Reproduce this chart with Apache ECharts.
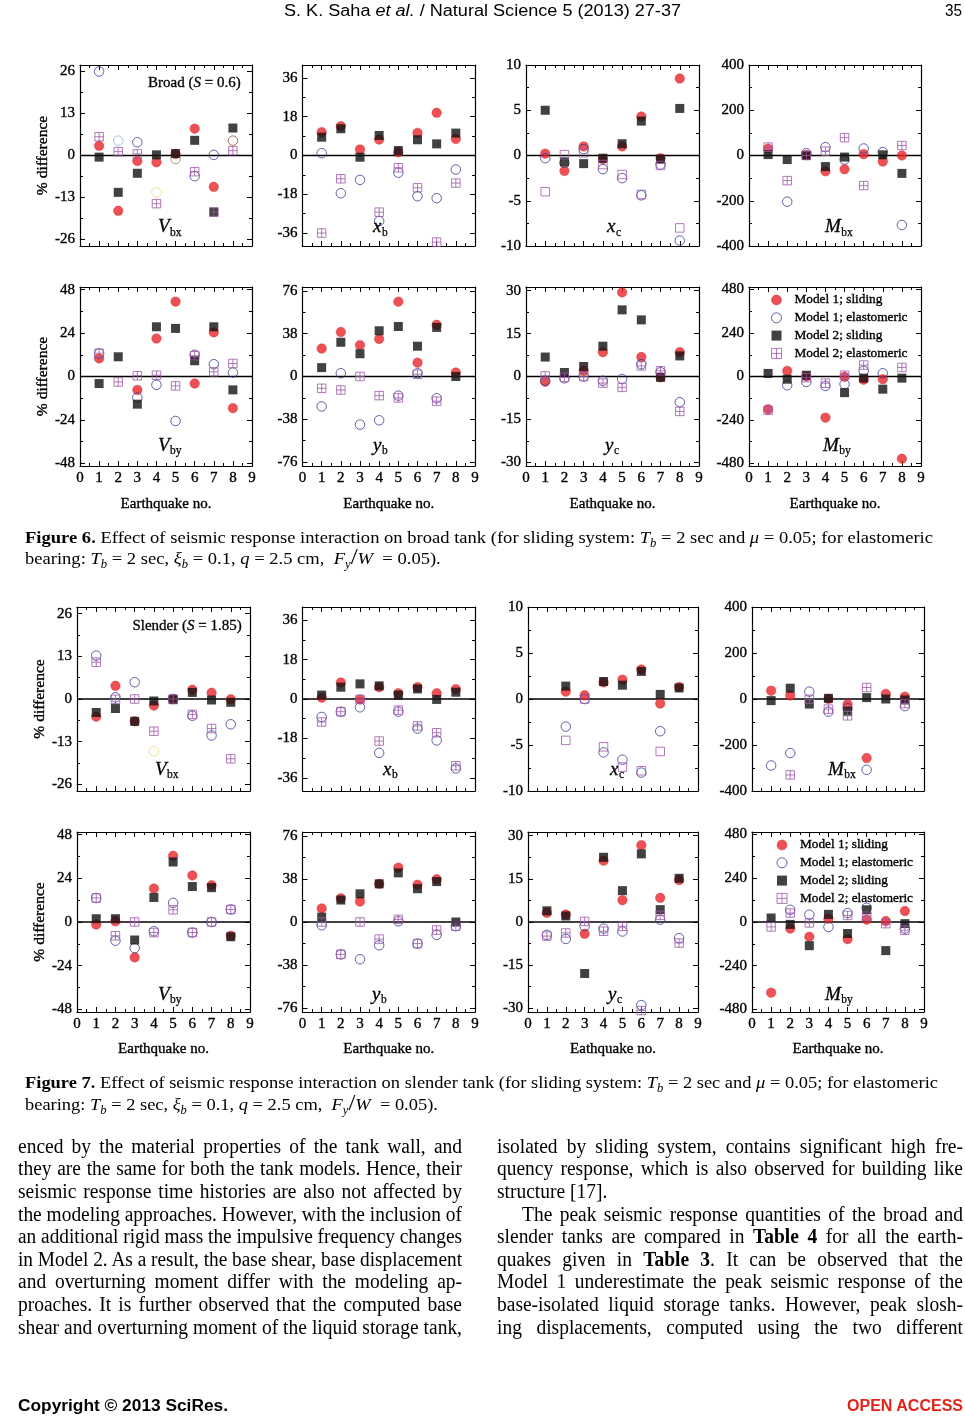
<!DOCTYPE html>
<html><head><meta charset="utf-8">
<script src="https://cdn.jsdelivr.net/npm/echarts@6.0.0/dist/echarts.min.js"></script>
<style>
html,body{margin:0;padding:0;background:#fff;}
#page{position:relative;width:965px;height:1417px;overflow:hidden;background:#fff;}
#chart{position:absolute;left:0;top:0;width:965px;height:1417px;}
.tx{position:absolute;white-space:nowrap;transform-origin:0 50%;color:#000;font-family:'Liberation Serif','Times New Roman',serif;z-index:2;}
.sans{font-family:'Liberation Sans',Arial,sans-serif;}
.tx sub{font-size:0.68em;vertical-align:-0.3em;line-height:0;}
.sl{font-size:1.35em;line-height:0;font-style:normal;}
</style>
</head><body>
<div id="page">
<div id="chart"></div>

<div class="tx sans" data-w="397" style="left:284px;top:0px;font-size:16px;line-height:21px">S. K. Saha <i>et al.</i> / Natural Science 5 (2013) 27-37</div>
<div class="tx sans" data-w="17" style="left:945px;top:0px;font-size:16px;line-height:21px">35</div>

<div class="tx" id="c6" data-w="908" style="left:25px;top:526px;font-size:17.5px;line-height:22px"><b>Figure 6.</b> Effect of seismic response interaction on broad tank (for sliding system: <i>T<sub>b</sub></i> = 2 sec and <i>μ</i> = 0.05; for elastomeric</div>
<div class="tx" data-same="c6" style="left:25px;top:547px;font-size:17.5px;line-height:22px">bearing: <i>T<sub>b</sub></i> = 2 sec, <i>ξ<sub>b</sub></i> = 0.1, <i>q</i> = 2.5 cm, &nbsp;<i>F<sub>y</sub></i><span class="sl">/</span><i>W</i> &nbsp;= 0.05).</div>

<div class="tx" id="c7" data-w="913" style="left:25px;top:1071px;font-size:17.5px;line-height:22px"><b>Figure 7.</b> Effect of seismic response interaction on slender tank (for sliding system: <i>T<sub>b</sub></i> = 2 sec and <i>μ</i> = 0.05; for elastomeric</div>
<div class="tx" data-same="c7" style="left:25px;top:1093px;font-size:17.5px;line-height:22px">bearing: <i>T<sub>b</sub></i> = 2 sec, <i>ξ<sub>b</sub></i> = 0.1, <i>q</i> = 2.5 cm, &nbsp;<i>F<sub>y</sub></i><span class="sl">/</span><i>W</i> &nbsp;= 0.05).</div>

<div class="tx" data-w="444" data-j="1" style="left:18px;top:1134.7px;font-size:20.5px;line-height:22.6px">enced by the material properties of the tank wall, and</div>
<div class="tx" data-w="444" data-j="1" style="left:18px;top:1157.3px;font-size:20.5px;line-height:22.6px">they are the same for both the tank models. Hence, their</div>
<div class="tx" data-w="444" data-j="1" style="left:18px;top:1179.9px;font-size:20.5px;line-height:22.6px">seismic response time histories are also not affected by</div>
<div class="tx" data-w="444" data-j="1" style="left:18px;top:1202.5px;font-size:20.5px;line-height:22.6px">the modeling approaches. However, with the inclusion of</div>
<div class="tx" data-w="444" data-j="1" style="left:18px;top:1225.1px;font-size:20.5px;line-height:22.6px">an additional rigid mass the impulsive frequency changes</div>
<div class="tx" data-w="444" data-j="1" style="left:18px;top:1247.7px;font-size:20.5px;line-height:22.6px">in Model 2. As a result, the base shear, base displacement</div>
<div class="tx" data-w="444" data-j="1" style="left:18px;top:1270.3px;font-size:20.5px;line-height:22.6px">and overturning moment differ with the modeling ap-</div>
<div class="tx" data-w="444" data-j="1" style="left:18px;top:1292.9px;font-size:20.5px;line-height:22.6px">proaches. It is further observed that the computed base</div>
<div class="tx" data-w="444" data-j="1" style="left:18px;top:1315.5px;font-size:20.5px;line-height:22.6px">shear and overturning moment of the liquid storage tank,</div>

<div class="tx" data-w="466" data-j="1" style="left:497px;top:1134.7px;font-size:20.5px;line-height:22.6px">isolated by sliding system, contains significant high fre-</div>
<div class="tx" data-w="466" data-j="1" style="left:497px;top:1157.3px;font-size:20.5px;line-height:22.6px">quency response, which is also observed for building like</div>
<div class="tx" data-k="0.95" style="left:497px;top:1179.9px;font-size:20.5px;line-height:22.6px">structure [17].</div>
<div class="tx" data-w="441" data-j="1" style="left:522px;top:1202.5px;font-size:20.5px;line-height:22.6px">The peak seismic response quantities of the broad and</div>
<div class="tx" data-w="466" data-j="1" style="left:497px;top:1225.1px;font-size:20.5px;line-height:22.6px">slender tanks are compared in <b>Table 4</b> for all the earth-</div>
<div class="tx" data-w="466" data-j="1" style="left:497px;top:1247.7px;font-size:20.5px;line-height:22.6px">quakes given in <b>Table 3</b>. It can be observed that the</div>
<div class="tx" data-w="466" data-j="1" style="left:497px;top:1270.3px;font-size:20.5px;line-height:22.6px">Model 1 underestimate the peak seismic response of the</div>
<div class="tx" data-w="466" data-j="1" style="left:497px;top:1292.9px;font-size:20.5px;line-height:22.6px">base-isolated liquid storage tanks. However, peak slosh-</div>
<div class="tx" data-w="466" data-j="1" style="left:497px;top:1315.5px;font-size:20.5px;line-height:22.6px">ing displacements, computed using the two different</div>

<div class="tx sans" data-w="210" style="left:18px;top:1395px;font-size:16px;line-height:22px;font-weight:bold">Copyright © 2013 SciRes.</div>
<div class="tx sans" data-w="116" style="left:847px;top:1395px;font-size:16px;line-height:22px;font-weight:bold;color:#e2231a">OPEN ACCESS</div>
</div>

<script>
// ---------------- DATA ----------------
const earthquakes = [1, 2, 3, 4, 5, 6, 7, 8];
const panelKeys = ['Vbx', 'xb', 'xc', 'Mbx', 'Vby', 'yb', 'yc', 'Mby'];
const panelMain = ['V', 'x', 'x', 'M', 'V', 'y', 'y', 'M'];
const panelSub = ['bx', 'b', 'c', 'bx', 'by', 'b', 'c', 'by'];
const yMajorTicks = [
  [-26, -13, 0, 13, 26], [-36, -18, 0, 18, 36], [-10, -5, 0, 5, 10], [-400, -200, 0, 200, 400],
  [-48, -24, 0, 24, 48], [-76, -38, 0, 38, 76], [-30, -15, 0, 15, 30], [-480, -240, 0, 240, 480]
];
const yExtent = [28, 42, 10, 400, 49.5, 79.5, 31.3, 494];
const xTitles = ['Earthquake no.', 'Earthquake no.', 'Eathquake no.', 'Earthquake no.'];
const seriesNames = ['Model 1; sliding', 'Model 1; elastomeric', 'Model 2; sliding', 'Model 2; elastomeric'];

// Figure 6 (broad tank) — rows: Vbx, xb, xc, Mbx, Vby, yb, yc, Mby ; columns: earthquakes 1..8
const fig6_M1S = [
  [3.0, -17.1, -1.7, -2.1, 0.5, 8.3, -9.7, null],
  [10.8, 13.6, 2.8, 7.4, 1.5, 10.5, 19.8, 7.7],
  [0.2, -1.7, 1.0, -0.4, 1.0, 4.3, -0.3, 8.5],
  [30, null, 2, -70, -61, 6, -27, 0],
  [10.0, null, -7.4, 21.0, 41.4, -3.9, 24.4, -17.5],
  [24.8, 39.5, 27.8, 33.3, 66.4, 12.3, 45.9, 3.5],
  [-1.8, null, 2.0, 8.5, 29.4, 6.8, -0.3, 8.5],
  [-181, 31, 0, -227, -2, -18, -15, -454]
];
const fig6_M1E = [
  [26.0, 4.6, 4.1, -11.4, -1.1, -6.4, 0.2, 4.6],
  [1.1, -17.5, -11.3, -30.4, -8.0, -18.9, -19.8, -6.5],
  [-0.3, -0.8, 0.7, -1.5, -2.5, -4.4, -1.0, -9.4],
  [null, -204, 10, 37, -18, 31, 15, -307],
  [12.7, null, -11.6, -4.6, -24.6, 12.0, 6.8, 2.2],
  [-26.6, 2.9, -42.7, -38.9, -17.0, 2.9, -19.3, null],
  [-1.5, -0.6, 0, -1.5, -0.9, 4.3, 1.5, -9.0],
  [null, -48, -30, -52, -42, 31, 18, null]
];
const fig6_M2S = [
  [-0.5, -11.4, -5.5, 0.2, 0.6, 4.7, -17.5, 8.5],
  [8.5, 12.4, -0.8, 9.3, 2.3, 7.3, 5.4, 10.4],
  [5.0, -0.7, -0.9, -0.3, 1.3, 3.8, -0.4, 5.2],
  [4, -18, 0, -49, -7, null, 3, -79],
  [-3.9, 10.9, -15.3, 27.5, 26.6, 8.7, 27.5, -7.4],
  [7.9, 30.4, 20.2, 40.6, 44.4, 26.9, 43.6, 0],
  [6.8, 1.4, 3.5, 10.6, 23.3, 19.8, -0.3, 7.2],
  [17, -15, 7, null, -89, -9, -70, -9]
];
const fig6_M2E = [
  [5.8, 1.2, 0.5, -14.9, null, -5.0, -17.5, 1.5],
  [-36, -10.8, null, -26.3, -5.7, -15.0, -40.2, -12.8],
  [-4.0, 0.1, 0.3, -1.0, -2.1, -4.3, -1.1, -8.0],
  [37, -111, 0, 19, 79, -133, null, 44],
  [12.9, -3.0, 0.4, 0.7, -5.2, 11.5, 2.6, 7.2],
  [-10.5, -12.0, 0, -17.0, -19.0, 2.0, -21.9, null],
  [0.2, -0.3, 0, -2.3, -3.8, 3.7, 2.0, -12.2],
  [-186, null, -6, -37, 7, 63, null, 50]
];

// Figure 7 (slender tank)
const fig7_M1S = [
  [-5.4, 4.0, -6.8, -2.0, 0, 2.8, 1.9, -0.1],
  [0.6, 7.5, -0.2, 5.4, 2.6, 5.4, 2.6, 4.5],
  [null, 0.8, 0.4, 1.8, 2.1, 3.2, -0.5, 1.3],
  [36, 15, null, 0, -23, -257, 22, 10],
  [-1.4, 0.4, -19.5, 18.4, 36.4, 25.6, 20.2, -7.6],
  [12.0, 20.9, 18.0, 33.7, 48.0, 32.9, 37.7, null],
  [3.2, 2.6, -4.1, 21.3, 7.6, 26.7, 8.4, 14.6],
  [-388, -36, -81, 18, -94, 13, 5, 60]
];
const fig7_M1E = [
  [13.2, 0.5, 5.1, -15.9, 0, -5.1, -11.1, -7.7],
  [-8.2, -5.8, -3.8, -24.6, -5.8, -13.5, -18.9, -31.7],
  [null, -3.0, 0, -5.8, -6.6, -8.0, -3.5, null],
  [-289, -235, 32, -55, -40, -308, null, -31],
  [13.2, -10.3, -14.4, -5.1, 10.5, -5.8, 0, 6.9],
  [-2.9, -28.6, -32.9, -20.6, 0.6, -19.1, -11.4, -3.7],
  [-4.5, -5.9, -1.5, -2.3, -3.3, -28.9, 0.8, -5.6],
  [null, 67, 40, -27, 49, 78, null, -36]
];
const fig7_M2S = [
  [-4.1, -2.9, -6.8, -0.6, -0.2, 2.0, -0.3, -1.0],
  [1.8, 5.4, 6.9, 6.0, 1.8, 4.6, -0.2, 3.1],
  [null, 1.4, null, 1.9, 1.5, 3.0, 0.5, 1.2],
  [-7, 47, -22, 3, -53, 6, 0, -4],
  [1.8, 1.8, -9.9, 13.5, 33.0, 19.5, 18.9, -8.1],
  [4.3, 19.4, 24.9, 33.7, 43.4, 29.4, 35.7, 0],
  [3.9, 2.1, -17.9, 22.5, 10.9, 23.7, 4.3, 15.2],
  [22, -13, -130, 42, -63, 67, -157, -9]
];
const fig7_M2E = [
  [11.2, -0.1, 0, -9.8, 0, -4.7, -9.0, -18.2],
  [-10.5, -5.8, -0.2, -19.2, -5.1, -12.3, -15.4, -30.5],
  [null, -4.5, 0, -5.2, -7.4, -7.8, -5.7, null],
  [null, -330, -1, -44, -73, 50, null, -20],
  [13.2, -7.6, 0, -5.8, 6.7, -5.8, 0, 6.9],
  [0, -28.6, 0, -15.1, 2.3, -19.1, -7.1, -3.7],
  [-4.9, -3.8, 0.2, -3.2, -1.5, -30.8, 2.3, -7.3],
  [-27, 49, -5, null, 36, 32, -9, -45]
];

// ---------------- LAYOUT / STYLE ----------------
const F = "'Liberation Serif','Times New Roman',serif";
const figures = [
  { M: [fig6_M1S, fig6_M1E, fig6_M2S, fig6_M2E],
    rows: [[65, 246], [287, 466]], cols: [[80, 252], [302.5, 475], [526, 699], [749, 921]],
    tag: ['Broad (', 'S', ' = 0.6)'], tagPos: [240.7, 82.7], legendPos: [771, 292.5],
    labelDx: [[78, 70.5, 81, 76], [78, 70.5, 79, 74]], baseDy: [-12.5, -14], nameGap: 31,
    // odd outline colours of a few open circles in the V_bx panel (style only: [panel, earthquake index, colour])
    oddCircles: [[0, 1, '#8db5dc'], [0, 3, '#e6dc78'], [0, 4, '#8f8a55'], [0, 7, '#9c4a2e']] },
  { M: [fig7_M1S, fig7_M1E, fig7_M2S, fig7_M2E],
    rows: [[607, 791], [832, 1012]], cols: [[77, 250], [302.5, 475], [528, 698], [752, 924]],
    tag: ['Slender (', 'S', ' = 1.85)'], tagPos: [241.7, 626], legendPos: [776.5, 837.5],
    labelDx: [[78, 80.5, 82, 76], [81, 69.5, 80, 73]], baseDy: [-15, -11], nameGap: 30,
    oddCircles: [[0, 3, '#e6dc78']] }
];
const plusSquare = 'path://M0,0H10V10H0ZM5,0V10M0,5H10';
const openSquare = 'path://M0,0H10V10H0Z';
const solidSquare = 'path://M0,0H10V10H0Z';
const clear = 'rgba(255,255,255,0)';
const markerStyles = [
  { symbol: 'circle', symbolSize: 9.5, itemStyle: { color: '#e8262b', borderColor: '#d21e22', borderWidth: 0.5 } },
  { symbol: 'circle', symbolSize: 9.5, itemStyle: { color: clear, borderColor: '#3d3a8e', borderWidth: 1 } },
  { symbol: solidSquare, symbolSize: 9, itemStyle: { color: '#111111' } },
  { symbol: plusSquare, symbolSize: 8.5, itemStyle: { color: clear, borderColor: '#9d57a7', borderWidth: 1 } }
];
const axisColor = '#000';
const heavy = { textBorderColor: '#000', textBorderWidth: 0.35 };

function xDef(gi, pos, showLabel, name, gap) {
  return {
    type: 'value', gridIndex: gi, position: pos, min: 0, max: 9, interval: 1,
    axisLine: { show: true, onZero: false, lineStyle: { color: axisColor, width: 1.2 } },
    axisTick: { show: true, inside: true, length: 5, lineStyle: { color: axisColor, width: 1 } },
    minorTick: { show: true, splitNumber: 2, length: 3, lineStyle: { color: axisColor, width: 1 } },
    splitLine: { show: false }, minorSplitLine: { show: false },
    axisLabel: Object.assign({ show: showLabel, margin: 5, fontFamily: F, fontSize: 15, color: '#000' }, heavy),
    name: name, nameLocation: 'middle', nameGap: gap,
    nameTextStyle: Object.assign({ fontFamily: F, fontSize: 15, color: '#000' }, heavy)
  };
}
function yDef(gi, pos, ticks, ext, isMajor, showLabel, name) {
  return {
    type: 'value', gridIndex: gi, position: pos, min: -ext, max: ext,
    axisLine: { show: isMajor, onZero: false, lineStyle: { color: axisColor, width: 1.2 } },
    axisTick: { show: true, inside: true, length: isMajor ? 5 : 3, customValues: ticks, lineStyle: { color: axisColor, width: 1 } },
    axisLabel: Object.assign({ show: showLabel, customValues: ticks, margin: 5, fontFamily: F, fontSize: 15, color: '#000' }, heavy),
    splitLine: { show: false },
    name: name, nameLocation: 'middle', nameGap: 27, nameRotate: 90,
    nameTextStyle: Object.assign({ fontFamily: F, fontSize: 15.5, color: '#000' }, heavy)
  };
}

const mctx = document.createElement('canvas').getContext('2d');
function textW(t, font) { mctx.font = font; return mctx.measureText(t).width; }

const grids = [], xAxes = [], yAxes = [], series = [], graphics = [], legends = [];
figures.forEach(function (fig) {
  for (let p = 0; p < 8; p++) {
    const r = Math.floor(p / 4), c = p % 4;
    const top = fig.rows[r][0], bottom = fig.rows[r][1];
    const left = fig.cols[c][0], right = fig.cols[c][1];
    const gi = grids.length;
    grids.push({ left: left, top: top, width: right - left, height: bottom - top, containLabel: false, show: false });
    const bottomRow = r === 1;
    const xi = xAxes.length;
    xAxes.push(xDef(gi, 'bottom', bottomRow, bottomRow ? xTitles[c] : '', fig.nameGap));
    xAxes.push(xDef(gi, 'top', false, '', 0));
    const yi = yAxes.length;
    const ext = yExtent[p], maj = yMajorTicks[p];
    const minor = maj.slice(1).map(function (v, i) { return (v + maj[i]) / 2; });
    yAxes.push(yDef(gi, 'left', maj, ext, true, true, c === 0 ? '% difference' : ''));
    yAxes.push(yDef(gi, 'left', minor, ext, false, false, ''));
    yAxes.push(yDef(gi, 'right', maj, ext, true, false, ''));
    yAxes.push(yDef(gi, 'right', minor, ext, false, false, ''));
    // zero reference line
    series.push({ type: 'line', xAxisIndex: xi, yAxisIndex: yi, data: [[0, 0], [9, 0]], symbol: 'none',
      lineStyle: { color: '#000', width: 1.5 }, silent: true, z: 1, emphasis: { disabled: true } });
    for (let s = 0; s < 4; s++) {
      const vals = fig.M[s][p];
      const st = markerStyles[s];
      let sym = st.symbol;
      if (s === 3 && panelKeys[p] === 'xc') sym = openSquare;
      const pts = [];
      earthquakes.forEach(function (e, i) {
        if (vals[i] === null) return;
        const item = { value: [e, vals[i]] };
        if (s === 1) {
          fig.oddCircles.forEach(function (o) {
            if (o[0] === p && o[1] === i) item.itemStyle = { borderColor: o[2] };
          });
        }
        pts.push(item);
      });
      series.push({
        type: 'scatter', name: seriesNames[s], xAxisIndex: xi, yAxisIndex: yi,
        data: pts, symbol: sym, symbolSize: st.symbolSize, symbolKeepAspect: true,
        itemStyle: st.itemStyle, silent: true, emphasis: { disabled: true }, z: 2
      });
    }
    // panel label (e.g. V_bx)
    const mainFont = 'italic 19px "Liberation Serif"';
    const baseY = bottom + fig.baseDy[r];
    const mx = left + fig.labelDx[r][c];
    const mw = textW(panelMain[p], mainFont);
    graphics.push({ type: 'text', x: mx, y: baseY - 6.3, silent: true, z: 50,
      style: { text: panelMain[p], fontFamily: F, fontSize: 19, fontStyle: 'italic', fill: '#000', align: 'left', verticalAlign: 'middle', stroke: '#000', lineWidth: 0.3 } });
    graphics.push({ type: 'text', x: mx + mw + 0.5, y: baseY + 3 - 3.6, silent: true, z: 50,
      style: { text: panelSub[p], fontFamily: F, fontSize: 11.5, fill: '#000', align: 'left', verticalAlign: 'middle', stroke: '#000', lineWidth: 0.25 } });
  }
  graphics.push({ type: 'text', x: fig.tagPos[0], y: fig.tagPos[1], silent: true, z: 50,
    style: { text: '{n|' + fig.tag[0] + '}{i|' + fig.tag[1] + '}{n|' + fig.tag[2] + '}', align: 'right', verticalAlign: 'middle',
      rich: { n: { fontFamily: F, fontSize: 15, fill: '#000', stroke: '#000', lineWidth: 0.3 }, i: { fontFamily: F, fontSize: 15, fontStyle: 'italic', fill: '#000', stroke: '#000', lineWidth: 0.3 } } } });
  legends.push({
    orient: 'vertical', left: fig.legendPos[0], top: fig.legendPos[1], padding: 0,
    itemWidth: 26, itemHeight: 10, itemGap: 2.8, selectedMode: false,
    textStyle: Object.assign({ fontFamily: F, fontSize: 13.3, color: '#000', lineHeight: 15 }, heavy),
    data: seriesNames.map(function (n, s) {
      return { name: n, icon: markerStyles[s].symbol, itemStyle: Object.assign({ borderWidth: 0 }, markerStyles[s].itemStyle) };
    })
  });
});

const chart = echarts.init(document.getElementById('chart'), null, { renderer: 'canvas', width: 965, height: 1417 });
chart.setOption({
  animation: false, backgroundColor: '#fff',
  grid: grids, xAxis: xAxes, yAxis: yAxes, series: series, legend: legends,
  graphic: { elements: graphics }
});

// ---------------- text fitting ----------------
function fitText() {
  const scales = {};
  document.querySelectorAll('.tx').forEach(function (el) { el.style.transform = 'none'; el.style.wordSpacing = '0px'; });
  document.querySelectorAll('.tx[data-w]').forEach(function (el) {
    const target = +el.dataset.w, w0 = el.getBoundingClientRect().width;
    let s;
    if (el.dataset.j) {
      const k = +(el.dataset.k || 0.95);
      const n = (el.textContent.match(/[ \u00a0]/g) || []).length;
      const need = target / k;
      if (n > 0 && w0 <= need) { el.style.wordSpacing = ((need - w0) / n) + 'px'; s = k; }
      else s = target / w0;
    } else s = target / w0;
    el.style.transform = 'scaleX(' + s + ')';
    if (el.id) scales[el.id] = s;
  });
  document.querySelectorAll('.tx[data-same]').forEach(function (el) { el.style.transform = 'scaleX(' + scales[el.dataset.same] + ')'; });
  document.querySelectorAll('.tx[data-k]:not([data-w])').forEach(function (el) { el.style.transform = 'scaleX(' + el.dataset.k + ')'; });
}
fitText();
</script>
</body></html>
